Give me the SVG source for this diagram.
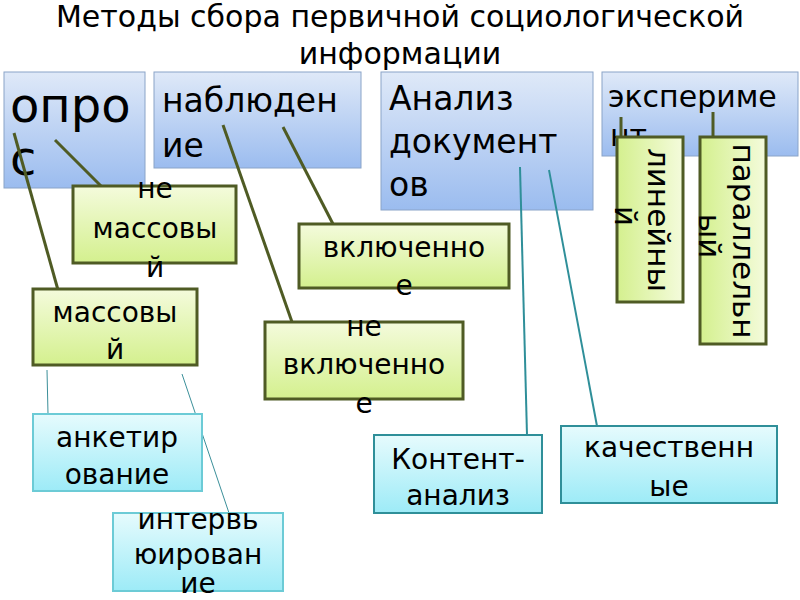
<svg xmlns="http://www.w3.org/2000/svg" width="800" height="600" viewBox="0 0 800 600">
<defs>
<linearGradient id="gb" x1="0" y1="0" x2="0" y2="1"><stop offset="0" stop-color="#dfe9f8"/><stop offset="1" stop-color="#9bbcef"/></linearGradient>
<linearGradient id="gg" x1="0" y1="0" x2="0" y2="1"><stop offset="0" stop-color="#f4fbdc"/><stop offset="1" stop-color="#d4f08e"/></linearGradient>
<linearGradient id="gc" x1="0" y1="0" x2="0" y2="1"><stop offset="0" stop-color="#e6fbfd"/><stop offset="1" stop-color="#9debf7"/></linearGradient>
<linearGradient id="gv" x1="1" y1="0" x2="0" y2="0"><stop offset="0" stop-color="#f4fbdc"/><stop offset="1" stop-color="#d4f08e"/></linearGradient>
</defs>
<style>
text{font-family:"DejaVu Sans",sans-serif;fill:#000}
.b{fill:url(#gb);stroke:#8aa4c8;stroke-width:1}
.g{fill:url(#gg);stroke:#4f5b24;stroke-width:3}
.v{fill:url(#gv);stroke:#4f5b24;stroke-width:3}
.c{fill:url(#gc);stroke:#6ccbd6;stroke-width:2}
.ct{fill:url(#gc);stroke:#2f8f99;stroke-width:2}
.t24{font-size:28px;text-anchor:middle}
.vt{font-size:31px;text-anchor:middle}
</style>
<rect width="800" height="600" fill="#fff"/>
<text x="400" y="27" font-size="30" text-anchor="middle">Методы сбора первичной социологической</text>
<text x="400" y="64" font-size="30" text-anchor="middle">информации</text>
<g id="opros"><rect class="b" x="4" y="72" width="141" height="116"/><text x="10" y="122" font-size="48">опро</text><text x="10" y="175" font-size="48">с</text></g>
<g id="nabl"><rect class="b" x="154" y="72" width="207" height="96"/><text x="162" y="112" font-size="33">наблюден</text><text x="162" y="157" font-size="33">ие</text></g>
<g id="analiz"><rect class="b" x="381" y="72" width="212" height="138"/><text x="389" y="110" font-size="33">Анализ</text><text x="389" y="153" font-size="33">документ</text><text x="389" y="196" font-size="33">ов</text></g>
<g id="eksp"><rect class="b" x="602" y="72" width="196" height="84"/><text x="608" y="107" font-size="30">экспериме</text><text x="610" y="146" font-size="30">нт</text></g>
<g id="conn" fill="none">
<g stroke="#4f5b24" stroke-width="3"><line x1="14" y1="133" x2="58" y2="290"/><line x1="55" y1="140" x2="101" y2="186"/><line x1="223" y1="125" x2="292" y2="322"/><line x1="283" y1="127" x2="333" y2="224"/><line x1="621" y1="117" x2="621" y2="137"/><line x1="713" y1="112" x2="713" y2="137"/></g>
<g stroke="#3b8f99" stroke-width="1"><line x1="47" y1="370" x2="48" y2="414"/><line x1="182" y1="374" x2="229" y2="513"/></g>
<g stroke="#2f8f99" stroke-width="2"><line x1="520" y1="167" x2="527" y2="435"/><line x1="549" y1="170" x2="597" y2="426"/></g>
</g>
<g id="nemass"><rect class="g" x="73" y="186" width="163" height="77"/><text class="t24" x="155" y="198">не</text><text class="t24" x="155" y="238">массовы</text><text class="t24" x="155" y="277">й</text></g>
<g id="mass"><rect class="g" x="33" y="289" width="164" height="76"/><text class="t24" x="115" y="322">массовы</text><text class="t24" x="115" y="359">й</text></g>
<g id="vkl"><rect class="g" x="299" y="224" width="210" height="64"/><text class="t24" x="404" y="257">включенно</text><text class="t24" x="404" y="295">е</text></g>
<g id="nevkl"><rect class="g" x="265" y="322" width="198" height="77"/><text class="t24" x="364" y="336">не</text><text class="t24" x="364" y="374">включенно</text><text class="t24" x="364" y="413">е</text></g>
<g id="lin"><rect class="v" x="617" y="137" width="66" height="165"/><text class="vt" transform="translate(648,220) rotate(90)">линейны</text><text class="vt" transform="translate(615,216) rotate(90)">й</text></g>
<g id="par"><rect class="v" x="700" y="137" width="66" height="207"/><text class="vt" transform="translate(733,241) rotate(90)">параллельн</text><text class="vt" transform="translate(699,236) rotate(90)">ый</text></g>
<g id="anket"><rect class="c" x="33" y="414" width="169" height="77"/><text class="t24" x="117" y="447">анкетир</text><text class="t24" x="117" y="484">ование</text></g>
<g id="interv"><rect class="c" x="113" y="513" width="170" height="78"/><text class="t24" x="198" y="529">интервь</text><text class="t24" x="198" y="564">юирован</text><text class="t24" x="198" y="593">ие</text></g>
<g id="kontent"><rect class="ct" x="374" y="435" width="168" height="78"/><text class="t24" x="458" y="469">Контент-</text><text class="t24" x="458" y="505">анализ</text></g>
<g id="kach"><rect class="ct" x="561" y="426" width="216" height="77"/><text class="t24" x="669" y="457">качественн</text><text class="t24" x="669" y="496">ые</text></g>
</svg>
